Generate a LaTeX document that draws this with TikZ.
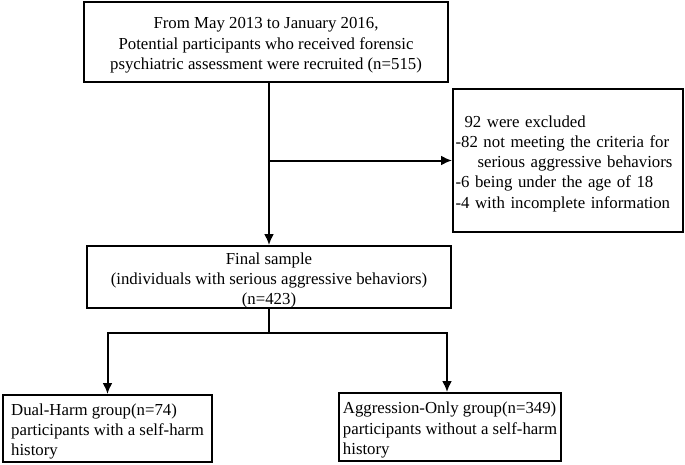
\documentclass[tikz,border=0pt]{standalone}
\usepackage{fontspec}
\setmainfont{Liberation Serif}
\usetikzlibrary{arrows.meta,calc}
\newcommand{\topgap}{\rule{0pt}{18pt}}

\begin{document}
\begin{tikzpicture}[x=1pt,y=-1pt,>={Latex[length=11pt,width=10pt]},line width=2pt,
    box/.style={draw,rectangle,inner ysep=0pt,font=\fontsize{16.8pt}{20.2pt}\selectfont}]
    \useasboundingbox (0,0) rectangle (685,464);

    \node[box,align=center,minimum width=364pt,minimum height=80pt] (top) at (266,42)
      {\topgap From May 2013 to January 2016,\\Potential participants who received forensic\\psychiatric assessment were recruited (n=515)};
    \node[box,align=left,text width=225pt,inner xsep=2.5pt,minimum height=143pt] (excl) at (568,160.5)
      {\topgap\hspace*{9pt}92 were excluded\\-82 not meeting the criteria for\\\hspace*{22pt}serious aggressive behaviors\\-6 being under the age of 18\\-4 with incomplete information};
    \node[box,align=center,minimum width=364pt,minimum height=60pt] (final) at (269,277)
      {\topgap Final sample\\(individuals with serious aggressive behaviors)\\(n=423)};
    \node[box,align=left,minimum width=209pt,minimum height=67pt] (dual) at (107.5,428.5)
      {\topgap Dual-Harm group(n=74)\\participants with a self-harm\\history};
    \node[box,align=left,minimum width=222pt,minimum height=68pt] (aggr) at (450,427)
      {\topgap Aggression-Only group(n=349)\\participants without a self-harm\\history};

    \draw[->] (final.north |- top.south) -- (final.north);
    \draw[->] (excl.west -| final.north) -- (excl.west);
    \coordinate (split) at (269,333);
    \draw (final.south) -- (split);
    \draw[->] (split) -| (dual.north);
    \draw[->] (split) -| ([xshift=-3pt]aggr.north);

  \end{tikzpicture}
\end{document}
